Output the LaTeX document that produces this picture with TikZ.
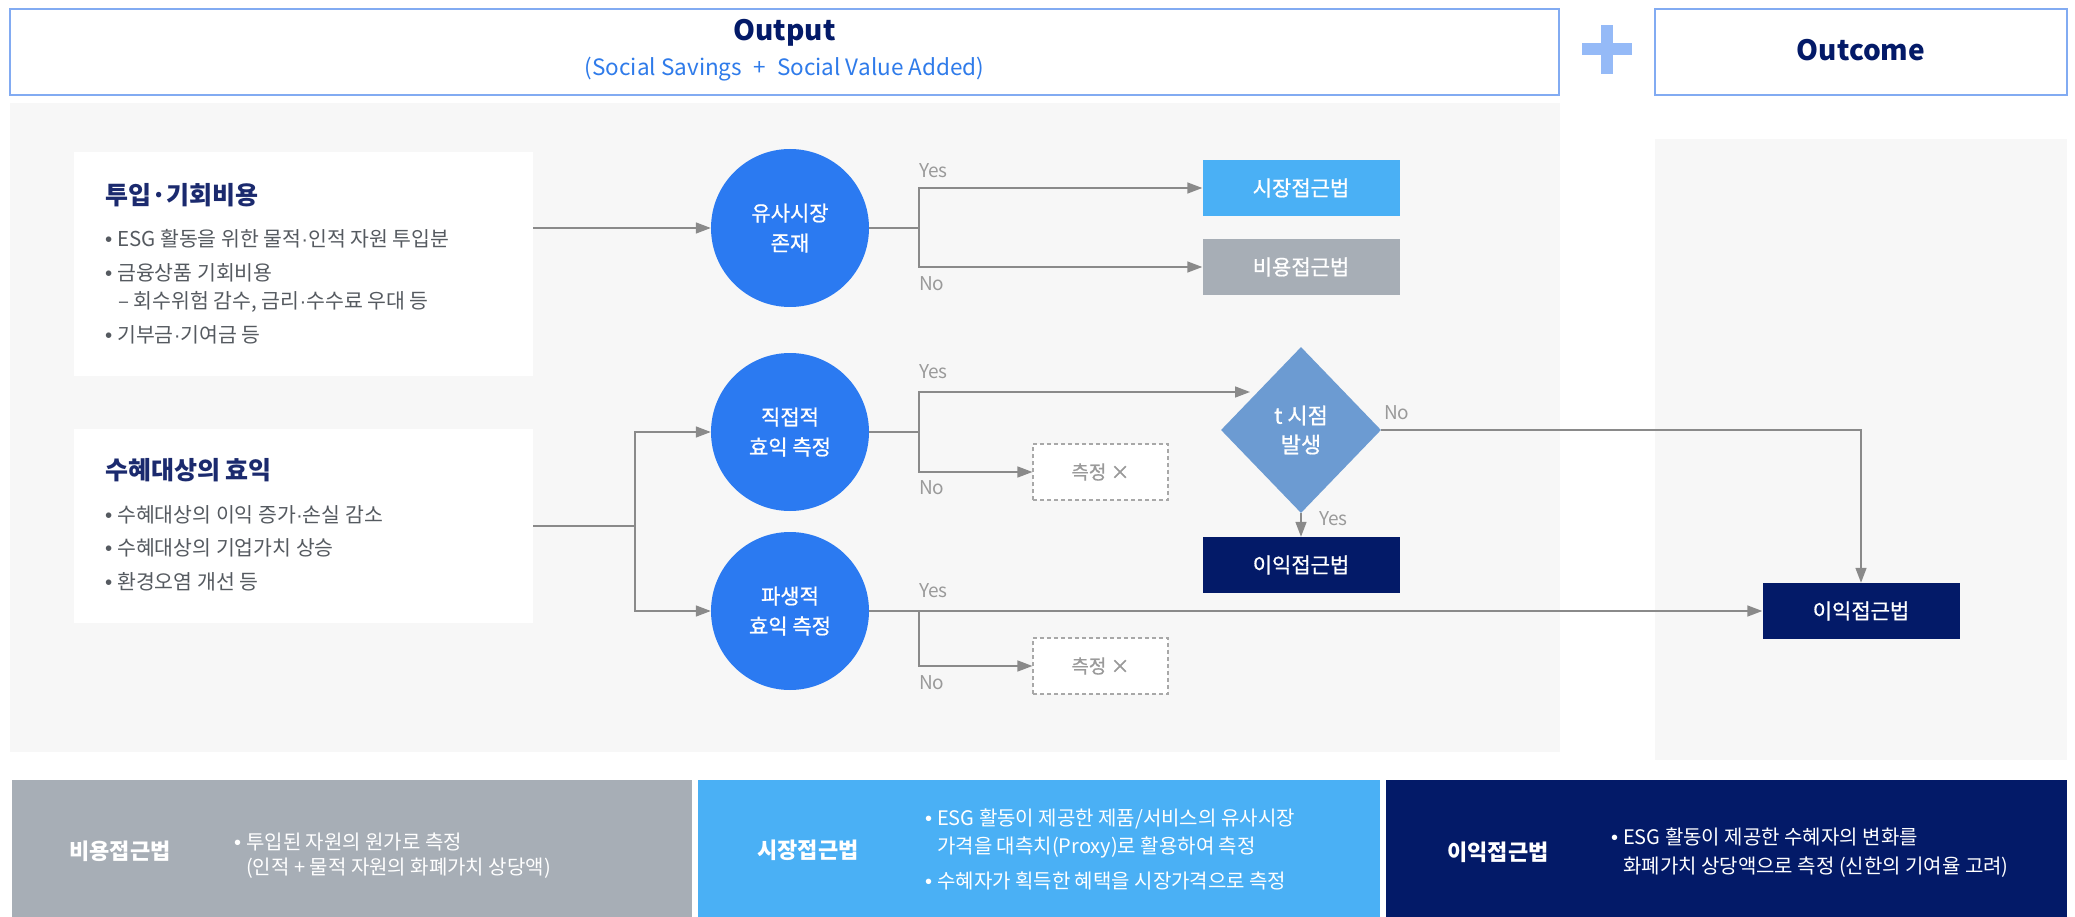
\documentclass[tikz,border=0pt]{standalone}
\usepackage{fontspec}
\setmainfont{Noto Sans CJK KR}
\newfontfamily\medfont{Noto Sans CJK KR}[FakeBold=0.8]
\newfontfamily\latf{Liberation Sans}
\usetikzlibrary{arrows.meta,shapes.geometric}
\definecolor{navy}{HTML}{031A68}
\definecolor{ttl}{HTML}{1B2A6E}
\definecolor{cblue}{HTML}{2B7AF1}
\definecolor{dblue}{HTML}{6C9BD2}
\definecolor{lblue}{HTML}{4AB0F5}
\definecolor{gbox}{HTML}{A7AEB6}
\definecolor{panel}{HTML}{F7F7F7}
\definecolor{frame}{HTML}{82ABF2}
\definecolor{plusc}{HTML}{95BAF7}
\definecolor{lnc}{HTML}{8A8A8A}
\definecolor{lblc}{HTML}{9A9A9A}
\definecolor{txtc}{HTML}{555A60}
\definecolor{subc}{HTML}{2F7BEA}
\definecolor{dashc}{HTML}{A8A8A8}
\newcommand\myfs[2]{\fontsize{#1pt}{#2pt}\selectfont}
\newcommand\mybul{\makebox[12pt][l]{{\latf •}}}
\newcommand\md{{\latf ·}}
\tikzset{
 arr/.style={draw=lnc, line width=1.5pt, -{Triangle[length=15pt,width=11pt]}},
 ln/.style={draw=lnc, line width=1.5pt},
 circ/.style={circle, fill=cblue, minimum size=158pt, inner sep=0, text=white, align=center, font=\medfont\myfs{21}{30}},
 fbox/.style={rectangle, minimum width=197pt, minimum height=56pt, inner sep=0, text=white, font=\medfont\myfs{21}{24}},
 nobox/.style={rectangle, draw=dashc, dash pattern=on 4pt off 3pt, line width=1.2pt, fill=white, minimum width=135pt, minimum height=56pt, inner sep=0, text=lblc, font=\medfont\myfs{19}{22}},
 yn/.style={anchor=west, inner sep=0, text=lblc, font=\myfs{19}{22}},
 tx/.style={anchor=west, inner sep=0, text=txtc, font=\myfs{20.5}{24}},
 btitle/.style={anchor=west, inner sep=0, text=ttl, font=\myfs{25}{30}\bfseries},
 lg/.style={anchor=west, inner sep=0, text=white, font=\myfs{20}{24}},
 lgl/.style={inner sep=0, text=white, font=\myfs{22}{26}\bfseries},
 hdr/.style={draw=frame, line width=2pt, minimum height=86pt, inner sep=0},
 panelbox/.style={fill=white, minimum width=459pt, inner sep=0},
 legbox/.style={minimum height=137pt, inner sep=0},
}
\begin{document}
\begin{tikzpicture}[x=1pt,y=-1pt]
\useasboundingbox (0,0) rectangle (2075,917);
\fill[white] (0,0) rectangle (2075,917);
% header
\node[hdr, minimum width=1549pt] (outp) at (784.5,52) {};
\node[text=navy, font=\myfs{28}{32}\bfseries, inner sep=0] (outt) at (784.5,33) {Output};
\node[text=subc, font=\myfs{22.5}{26}, inner sep=0] (outs) at (784.5,69) {(Social Savings\hspace{0.5em}+\hspace{0.5em}Social Value Added)};
\fill[plusc] (1582,43) rectangle (1632,55);
\fill[plusc] (1601,25) rectangle (1613,74);
\node[hdr, minimum width=412pt] (outc) at (1861,52) {};
\node[text=navy, font=\myfs{28}{32}\bfseries, inner sep=0] (outct) at (1861,50) {Outcome};
% panels
\fill[panel] (10,103) rectangle (1560,752);
\fill[panel] (1655,139) rectangle (2067,760);
% input boxes
\node[panelbox, minimum height=224pt] (box1) at (303.5,264) {};
\node[panelbox, minimum height=194pt] (box2) at (303.5,526) {};
\node[btitle] (t1) at (105,195) {투입·기회비용};
\node[tx] (t1a) at (105,239) {\mybul ESG 활동을 위한 물적\md 인적 자원 투입분};
\node[tx] (t1b) at (105,273) {\mybul 금융상품 기회비용};
\node[tx] (t1c) at (118,302) {– 회수위험 감수, 금리\md 수수료 우대 등};
\node[tx] (t1d) at (105,335) {\mybul 기부금\md 기여금 등};
\node[btitle] (t2) at (105,470) {수혜대상의 효익};
\node[tx] (t2a) at (105,515) {\mybul 수혜대상의 이익 증가\md 손실 감소};
\node[tx] (t2b) at (105,548) {\mybul 수혜대상의 기업가치 상승};
\node[tx] (t2c) at (105,582) {\mybul 환경오염 개선 등};
% circles
\node[circ] (c1) at (790,228) {유사시장\\존재};
\node[circ] (c2) at (790,432) {직접적\\효익 측정};
\node[circ] (c3) at (790,611) {파생적\\효익 측정};
% result boxes
\node[fbox, fill=lblue] (mkt) at (1301,188) {시장접근법};
\node[fbox, fill=gbox] (cost) at (1301,267) {비용접근법};
\node[fbox, fill=navy] (ip1) at (1301,565) {이익접근법};
\node[fbox, fill=navy] (ip2) at (1861,611) {이익접근법};
\node[nobox] (nx1) at (1100.5,472) {측정 ×};
\node[nobox] (nx2) at (1100.5,666) {측정 ×};
\node[diamond, fill=dblue, minimum width=160pt, minimum height=166pt, inner sep=0, text=white, align=center, font=\medfont\myfs{22}{29}] (dm) at (1301,430) {t 시점\\발생};
% junctions
\coordinate (k1) at (919,228);
\coordinate (k2) at (919,432);
\coordinate (k3) at (919,611);
\coordinate (j1) at (635,526);
\coordinate (dtop) at (1250,392);
% connectors
\draw[arr] (box1.east |- c1.west) -- (c1.west);
\draw[ln] (box2.east) -- (j1);
\draw[arr] (j1) |- (c2.west);
\draw[arr] (j1) |- (c3.west);
\draw[ln] (c1.east) -- (k1);
\draw[arr] (k1) |- (mkt.west);
\draw[arr] (k1) |- (cost.west);
\draw[ln] (c2.east) -- (k2);
\draw[arr] (k2) |- (dtop);
\draw[arr] (k2) |- (nx1.west);
\draw[arr] (dm.south) -- (ip1.north);
\draw[arr] (dm.east) -| (ip2.north);
\draw[arr] (c3.east) -- (ip2.west);
\draw[arr] (k3) |- (nx2.west);
% labels
\node[yn] (y1) at (919,171) {Yes};
\node[yn] (n1) at (919,284) {No};
\node[yn] (y2) at (919,372) {Yes};
\node[yn] (n2) at (919,488) {No};
\node[yn] (y3) at (919,591) {Yes};
\node[yn] (n3) at (919,683) {No};
\node[yn] (y4) at (1319,519) {Yes};
\node[yn] (n4) at (1384,413) {No};
% legend
\node[legbox, fill=gbox, minimum width=680pt] (lg1) at (352,848.5) {};
\node[legbox, fill=lblue, minimum width=682pt] (lg2) at (1039,848.5) {};
\node[legbox, fill=navy, minimum width=681pt] (lg3) at (1726.5,848.5) {};
\node[lgl] (l1) at (120,851) {비용접근법};
\node[lgl] (l2) at (808,850) {시장접근법};
\node[lgl] (l3) at (1498,852) {이익접근법};
\node[lg] (l1a) at (234,842) {\mybul 투입된 자원의 원가로 측정};
\node[lg] (l1b) at (246,868) {(인적 + 물적 자원의 화폐가치 상당액)};
\node[lg] (l2a) at (925,819) {\mybul ESG 활동이 제공한 제품/서비스의 유사시장};
\node[lg] (l2b) at (937,847) {가격을 대측치(Proxy)로 활용하여 측정};
\node[lg] (l2c) at (925,881) {\mybul 수혜자가 획득한 혜택을 시장가격으로 측정};
\node[lg] (l3a) at (1611,837) {\mybul ESG 활동이 제공한 수혜자의 변화를};
\node[lg] (l3b) at (1623,867) {화폐가치 상당액으로 측정 (신한의 기여율 고려)};
\end{tikzpicture}
\end{document}
